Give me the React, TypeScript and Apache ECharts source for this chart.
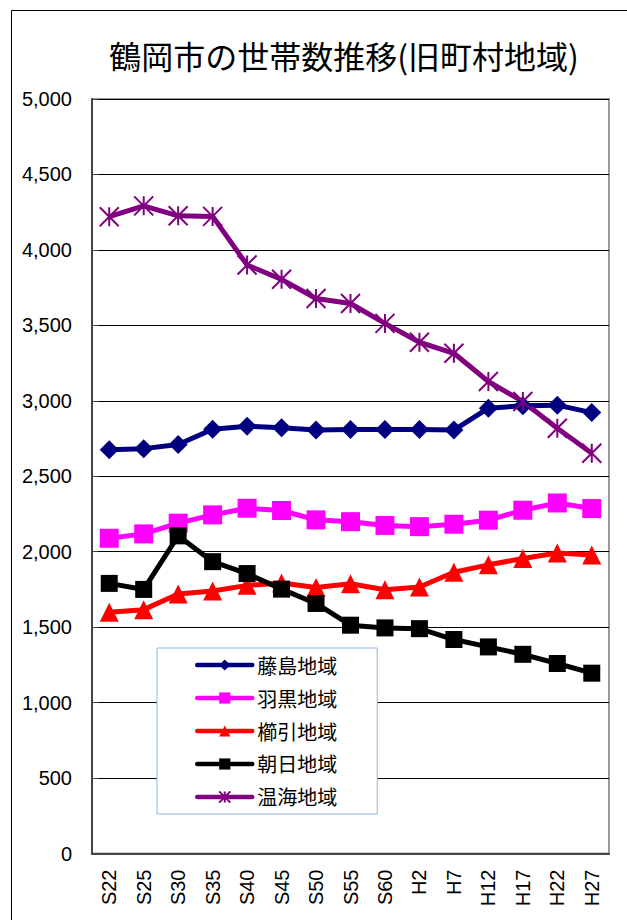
import React, { useEffect, useRef } from "react";
import * as echarts from "echarts";

const titleText = "鶴岡市の世帯数推移(旧町村地域)";
const categories = ["S22", "S25", "S30", "S35", "S40", "S45", "S50", "S55", "S60", "H2", "H7", "H12", "H17", "H22", "H27"];
const fujishima = [2676, 2683, 2710, 2812, 2832, 2821, 2806, 2810, 2810, 2810, 2806, 2951, 2967, 2971, 2922];
const haguro = [2089, 2118, 2189, 2244, 2288, 2273, 2211, 2199, 2174, 2166, 2182, 2209, 2275, 2323, 2286];
const kushibiki = [1598, 1616, 1720, 1740, 1777, 1792, 1763, 1788, 1748, 1766, 1864, 1913, 1955, 1991, 1978];
const asahi = [1790, 1750, 2105, 1934, 1855, 1752, 1657, 1513, 1495, 1490, 1418, 1369, 1320, 1259, 1195];
const atsumi = [4220, 4292, 4226, 4222, 3900, 3805, 3678, 3645, 3513, 3388, 3315, 3128, 2995, 2818, 2652];
const seriesNames = ["藤島地域", "羽黒地域", "櫛引地域", "朝日地域", "温海地域"];

const CJK = '"Noto Sans CJK JP", sans-serif';
const LAT = '"Liberation Sans", Arial, sans-serif';
const STAR = "path://M0,0L20,20M20,0L0,20M10,0L10,20";

export default function App() {
  const ref = useRef<HTMLDivElement>(null);
  useEffect(() => {
    if (!ref.current) return;
    const chart = echarts.init(ref.current, null, { renderer: "svg" });
    const mk = (name: string, data: number[], color: string, symbol: string, size: number, bw = 0) => ({
      name,
      type: "line",
      data,
      symbol,
      symbolSize: size,
      showAllSymbol: true,
      lineStyle: { color, width: 5 },
      itemStyle: { color, borderColor: color, borderWidth: bw },
      emphasis: { disabled: true },
    });
    chart.setOption({
      animation: false,
      backgroundColor: "#fff",
      graphic: [
        {
          type: "rect",
          shape: { x: 11.5, y: 10.5, width: 800, height: 1000 },
          style: { fill: "none", stroke: "#000", lineWidth: 1 },
          silent: true,
          z: 0,
        },
        {
          type: "text",
          x: 344,
          y: 55,
          style: {
            text: titleText,
            font: `32px ${CJK}`,
            fill: "#000",
            align: "center",
            verticalAlign: "middle",
          },
        },
      ],
      grid: {
        left: 92,
        top: 99,
        right: 18,
        bottom: 66.5,
        show: true,
        borderColor: "#999",
        borderWidth: 2,
        backgroundColor: "transparent",
        containLabel: false,
        outerBoundsMode: "none",
      },
      legend: {
        orient: "vertical",
        left: 157,
        top: 648,
        data: seriesNames,
        backgroundColor: "#fff",
        borderColor: "#8EB4E3",
        borderWidth: 1,
        padding: [7, 40, 7, 38],
        itemWidth: 55,
        itemHeight: 14,
        itemGap: 13,
        lineStyle: { width: 4.5, cap: "round" },
        textStyle: { fontSize: 20, fontFamily: CJK, color: "#000" },
      },
      xAxis: {
        type: "category",
        data: categories,
        boundaryGap: true,
        axisLine: { lineStyle: { color: "#444", width: 2 } },
        axisTick: { inside: true, length: 6, interval: 0, lineStyle: { color: "#444" } },
        axisLabel: { rotate: 90, interval: 0, fontSize: 20, fontFamily: LAT, color: "#000", margin: 16 },
        splitLine: { show: false },
      },
      yAxis: {
        type: "value",
        min: 0,
        max: 5000,
        interval: 500,
        axisLine: { show: true, lineStyle: { color: "#444", width: 2 } },
        axisTick: { show: true, inside: true, length: 6, lineStyle: { color: "#444" } },
        axisLabel: {
          fontSize: 20,
          fontFamily: LAT,
          color: "#000",
          margin: 20,
          formatter: (v: number) => v.toLocaleString("en-US"),
        },
        splitLine: { lineStyle: { color: "#000", width: 1 } },
      },
      series: [
        mk(seriesNames[0], fujishima, "#000080", "diamond", 19),
        mk(seriesNames[1], haguro, "#FF00FF", "rect", 19),
        mk(seriesNames[2], kushibiki, "#FF0000", "triangle", 19),
        mk(seriesNames[3], asahi, "#000000", "rect", 17),
        mk(seriesNames[4], atsumi, "#800080", STAR, 19, 2),
      ],
    });
    return () => chart.dispose();
  }, []);
  return (
    <div
      ref={ref}
      style={{ position: "fixed", left: 0, top: 0, width: 627, height: 920, background: "#fff" }}
    />
  );
}
